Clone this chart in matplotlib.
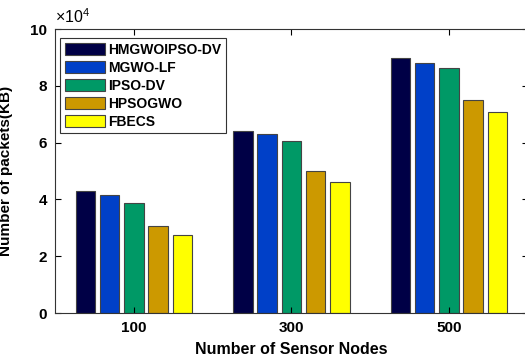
import numpy as np
import matplotlib.pyplot as plt
from matplotlib.ticker import FuncFormatter

plt.rcParams["font.family"] = ["Liberation Sans", "DejaVu Sans"]
plt.rcParams["mathtext.fontset"] = "custom"
plt.rcParams["mathtext.rm"] = "Liberation Sans"

nodes = ["100", "300", "500"]
methods = ["HMGWOIPSO-DV", "MGWO-LF", "IPSO-DV", "HPSOGWO", "FBECS"]
colors = ["#000046", "#0040c8", "#009966", "#cc9900", "#ffff00"]

hmgwoipso_dv = [43000, 64200, 89700]
mgwo_lf = [41400, 62900, 88000]
ipso_dv = [38900, 60500, 86400]
hpsogwo = [30600, 50100, 74900]
fbecs = [27400, 46200, 70700]
series = [hmgwoipso_dv, mgwo_lf, ipso_dv, hpsogwo, fbecs]

fig = plt.figure(figsize=(5.25, 3.59), dpi=100)
ax = fig.add_axes([0.105, 0.128, 0.9, 0.791])

x = np.arange(1, len(nodes) + 1)
step = 0.154
width = 0.124
for i, (name, vals) in enumerate(zip(methods, series)):
    ax.bar(x + (i - 2) * step, vals, width, color=colors[i], edgecolor="#444444",
           linewidth=0.8, label=name)

ax.set_xlim(0.5, 3.5)
ax.set_ylim(0, 100000)
ax.set_xticks(x)
ax.set_xticklabels(nodes)
ax.set_yticks(np.arange(0, 100001, 20000))
ax.yaxis.set_major_formatter(FuncFormatter(lambda v, p: f"{v / 1e4:g}"))
ax.text(0.0, 1.01, r"$\times\mathrm{10}^{4}$", transform=ax.transAxes, fontsize=11.5,
        ha="left", va="bottom")

ax.tick_params(direction="in", top=True, right=True, length=4, width=0.8,
               labelsize=11, pad=6)
for lab in ax.get_xticklabels() + ax.get_yticklabels():
    lab.set_fontweight("bold")
for s in ax.spines.values():
    s.set_color("#333333")
    s.set_linewidth(0.8)

ax.set_xlabel("Number of Sensor Nodes", fontsize=11.5, fontweight="bold", labelpad=5)
ax.set_ylabel("Number of packets(KB)", fontsize=11, fontweight="bold", labelpad=12)

leg = ax.legend(loc="upper left", bbox_to_anchor=(0.01, 0.968), borderaxespad=0,
                fancybox=False, edgecolor="#333333", framealpha=1,
                handlelength=2.9, handleheight=1.0, handletextpad=0.25,
                labelspacing=0.28, borderpad=0.35,
                prop={"weight": "bold", "size": 10})
leg.get_frame().set_linewidth(0.8)

fig.savefig("out.png", dpi=100)
